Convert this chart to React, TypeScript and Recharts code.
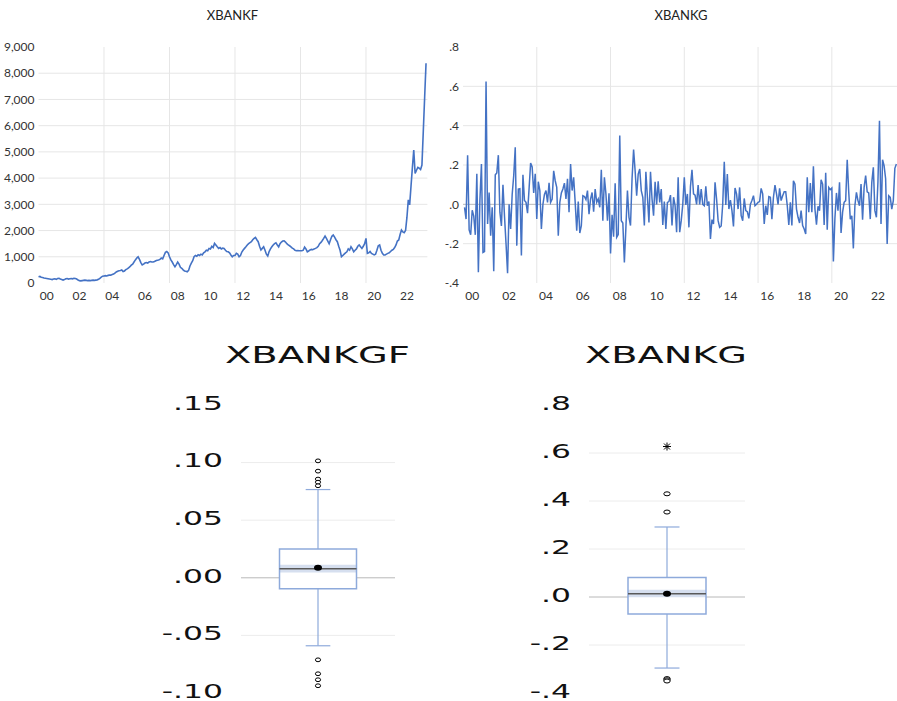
import React from 'react';
import {
  LineChart, Line, XAxis, YAxis, CartesianGrid, ReferenceLine,
  ComposedChart, ReferenceArea, ReferenceDot, Scatter,
} from 'recharts';

// ---------- data ----------
const startYear = 2000;

// XBANKF monthly level, Jan 2000 .. Sep 2023
const xbankf = [
  240, 250, 220, 210, 190, 180, 170, 160, 150, 140, 130, 150,
  160, 140, 170, 180, 150, 130, 110, 130, 160, 170, 150, 160,
  170, 160, 180, 170, 150, 110, 90, 80, 90, 100, 110, 100,
  90, 100, 90, 100, 110, 100, 110, 120, 140, 180, 220, 260,
  270, 280, 270, 290, 300, 300, 320, 340, 380, 420, 450, 470,
  480, 500, 440, 460, 510, 540, 580, 620, 680, 720, 800, 880,
  950, 1000, 900, 780, 690, 720, 760, 780, 760, 800, 820, 800,
  800, 820, 850, 870, 880, 900, 950, 920, 1050, 1170, 1200, 1150,
  1000, 880, 800, 700, 620, 700, 800, 720, 600, 560, 500, 460,
  450, 430, 480, 650, 760, 850, 1000, 1050, 1020, 1080, 1050, 1100,
  1070, 1150, 1190, 1250, 1230, 1320, 1300, 1400, 1350, 1510, 1450, 1380,
  1320, 1350, 1300, 1330, 1320, 1250, 1200, 1190, 1150, 1070, 1000, 1050,
  1050, 1130, 1100, 1000, 1050, 1180, 1260, 1320, 1380, 1450, 1500, 1540,
  1575, 1650, 1700, 1740, 1650, 1575, 1400, 1260, 1320, 1380, 1250, 1100,
  1030, 1200, 1300, 1380, 1450, 1500, 1530, 1450, 1380, 1500, 1560, 1600,
  1610, 1560, 1500, 1450, 1420, 1380, 1330, 1300, 1250, 1230, 1240, 1230,
  1230, 1230, 1250, 1370, 1300, 1190, 1220, 1260, 1280, 1270, 1300, 1320,
  1350, 1400, 1500, 1550, 1620, 1700, 1790, 1700, 1600, 1500, 1650, 1780,
  1830, 1750, 1650, 1575, 1400, 1250, 1000, 1050, 1100, 1150, 1190, 1300,
  1250, 1380, 1300, 1190, 1250, 1300, 1400, 1450, 1380, 1320, 1400, 1500,
  1700, 1130, 1150, 1200, 1130, 1100, 1070, 1100, 1250, 1420, 1450, 1250,
  1130, 1070, 1070, 1100, 1130, 1150, 1200, 1250, 1280, 1350, 1450, 1600,
  1640, 1850, 2020, 1950, 1920, 2000, 2500, 3170, 2980, 3700, 4400, 5070,
  4180, 4300, 4410, 4380, 4330, 4500, 5800, 7100, 8380,
];

// XBANKG monthly growth, Feb 2000 .. Jul 2023
const xbankg = [
  -0.015, -0.075, 0.25, -0.13, -0.155, -0.03, -0.06, -0.155, 0.155, -0.345, 0.02, 0.205,
  -0.245, -0.24, 0.624, -0.1, 0.06, -0.16, -0.015, -0.34, 0.15, 0.16, 0.25, -0.04,
  -0.11, 0.1, -0.06, -0.2, -0.35, 0.0, -0.125, 0.05, 0.145, 0.29, -0.21, 0.078,
  0.08, -0.26, 0.15, 0.02, 0.01, -0.045, 0.08, 0.21, 0.19, 0.058, 0.155, -0.075,
  0.115, 0.07, -0.125, 0.0, 0.05, 0.07, 0.01, 0.11, 0.01, 0.027, 0.17, 0.12,
  0.086, -0.16, 0.01, 0.058, 0.078, 0.108, 0.027, 0.13, -0.04, 0.205, 0.07, 0.137,
  0.01, -0.134, 0.014, -0.146, -0.108, 0.044, 0.04, 0.024, 0.07, -0.05, 0.027, 0.06,
  -0.037, 0.078, 0.01, 0.027, -0.015, 0.176, -0.083, 0.137, 0.053, -0.083, 0.056, -0.25,
  -0.053, -0.165, 0.107, -0.168, -0.154, 0.35, -0.083, -0.095, -0.295, -0.117, 0.07, -0.066,
  -0.108, 0.13, 0.278, 0.171, 0.044, 0.154, 0.18, 0.07, 0.036, -0.108, 0.166, 0.036,
  -0.092, 0.166, 0.027, -0.058, 0.115, 0.0, 0.117, 0.01, 0.078, -0.105, 0.014, -0.125,
  0.01, 0.014, 0.047, -0.108, 0.036, -0.007, -0.142, 0.137, -0.142, -0.083, 0.0, 0.137,
  -0.003, 0.053, -0.117, 0.09, 0.176, 0.053, 0.047, 0.0, 0.098, 0.0, 0.078, 0.0,
  -0.007, 0.092, -0.007, 0.014, -0.176, -0.078, -0.1, 0.112, 0.027, -0.083, -0.117, -0.11,
  0.0, 0.217, -0.003, 0.154, -0.024, 0.022, -0.032, -0.112, 0.083, 0.053, -0.024, 0.086,
  -0.058, -0.083, 0.03, -0.032, -0.037, -0.071, 0.0, 0.02, 0.044, -0.007, 0.0, 0.01,
  0.014, 0.081, 0.053, -0.1, -0.007, -0.054, 0.039, 0.036, -0.075, 0.036, 0.098, 0.053,
  0.0, 0.081, 0.019, 0.044, 0.064, 0.064, -0.007, -0.105, 0.01, -0.108, 0.12, 0.103,
  -0.024, -0.066, -0.095, -0.032, -0.108, -0.125, -0.151, 0.137, -0.04, 0.108, -0.04, 0.193,
  -0.024, -0.103, -0.01, -0.032, 0.125, 0.103, -0.105, 0.16, -0.129, 0.086, 0.075, 0.083,
  -0.29, -0.071, 0.058, -0.032, 0.112, -0.146, -0.04, 0.01, 0.019, 0.227, 0.061, -0.075,
  -0.058, -0.224, -0.007, 0.061, 0.019, -0.007, 0.103, -0.078, 0.086, 0.146, 0.064, 0.058,
  -0.075, 0.112, 0.188, -0.032, -0.066, 0.115, 0.425, -0.1, 0.227, 0.197, 0.13, -0.202,
  0.044, 0.036, -0.024, 0.019, 0.183, 0.205,
];

const yearTicks = [2000.5, 2002.5, 2004.5, 2006.5, 2008.5, 2010.5, 2012.5, 2014.5, 2016.5, 2018.5, 2020.5, 2022.5];
const yearLabels = ['00', '02', '04', '06', '08', '10', '12', '14', '16', '18', '20', '22'];
const gridYears = [2004, 2008, 2012, 2016, 2020];
const levelTicks = [0, 1000, 2000, 3000, 4000, 5000, 6000, 7000, 8000, 9000];
const levelGrid = [1000, 2000, 3000, 4000, 5000, 6000, 7000, 8000];
const growthTicks = [-0.4, -0.2, 0, 0.2, 0.4, 0.6, 0.8];
const growthGrid = [-0.2, 0.2, 0.4, 0.6];

// Box plot XBANKGF: [lower whisker, Q1, median, Q3, upper whisker]
const gfBox = [-0.059, -0.0095, 0.0078, 0.025, 0.0766];
const gfMean = 0.0087;
const gfMedianCI = [0.0046, 0.0113];
const gfOutliers = [0.1015, 0.0926, 0.0857, 0.083, 0.0799, -0.0712, -0.0833, -0.0885, -0.0937];
const gfFar: number[] = [];
const gfTicks = [-0.1, -0.05, 0, 0.05, 0.1, 0.15];
const gfGrid = [-0.05, 0.05, 0.1];

// Box plot XBANKG
const gBox = [-0.296, -0.0708, 0.0138, 0.0817, 0.2917];
const gMean = 0.0138;
const gMedianCI = [-0.001, 0.03];
const gOutliers = [0.43, 0.354, -0.34, -0.345, -0.35];
const gFar = [0.627];
const gTicks = [-0.4, -0.2, 0, 0.2, 0.4, 0.6, 0.8];
const gGrid = [-0.2, 0.2, 0.4, 0.6];

// ---------- derived ----------
const levelData = xbankf.map((v, i) => ({ t: startYear + i / 12, v }));
const growthData = xbankg.map((v, i) => ({ t: startYear + (i + 1) / 12, v }));

const LINE = '#4472c4';
const GRID = '#e6e6e6';
const ZERO = '#b8b8b8';
const SMALL_FONT = 'Lato, "Open Sans", sans-serif';
const BIG_FONT = '"DejaVu Sans", Verdana, sans-serif';

const yearFmt = (v: number) => yearLabels[yearTicks.indexOf(v)] ?? '';
const levelFmt = (v: number) => v.toLocaleString('en-US');
const decFmt = (digits: number) => (v: number) => v.toFixed(digits).replace(/^(-?)0\./, '$1.');

const smallTick = { fontSize: 12, fill: '#333', fontFamily: SMALL_FONT };

const BigTick = (fmt: (v: number) => string) => (props: any) => {
  const { x, y, payload } = props;
  return (
    <g transform={`translate(${x},${y})`}>
      <text transform="scale(1.57,1)" textAnchor="end" dy="0.24em" fontSize={20}
        fontFamily={BIG_FONT} fill="#111">{fmt(payload.value)}</text>
    </g>
  );
};

const Hollow = (rx: number, ry: number) => (props: any) => (
  <ellipse cx={props.cx} cy={props.cy} rx={rx} ry={ry} fill="#fff" stroke="#000" strokeWidth={1} />
);

const Star = (props: any) => {
  const { cx, cy } = props;
  const r = 4;
  return (
    <g stroke="#000" strokeWidth={1}>
      <line x1={cx - r} y1={cy} x2={cx + r} y2={cy} />
      <line x1={cx} y1={cy - r} x2={cx} y2={cy + r} />
      <line x1={cx - r * 0.75} y1={cy - r * 0.75} x2={cx + r * 0.75} y2={cy + r * 0.75} />
      <line x1={cx - r * 0.75} y1={cy + r * 0.75} x2={cx + r * 0.75} y2={cy - r * 0.75} />
    </g>
  );
};

const MeanDot = (props: any) => (
  <ellipse cx={props.cx} cy={props.cy} rx={4} ry={3} fill="#000" />
);

type BoxProps = {
  box: number[]; mean: number; ci: number[]; outliers: number[]; far: number[];
  ticks: number[]; grid: number[]; digits: number; yAxisWidth: number; rx: number; ry: number;
};

const BOX_STROKE = '#8eaadb';

function BoxPanel(p: BoxProps) {
  const [lo, q1, med, q3, hi] = p.box;
  const domain = [p.ticks[0], p.ticks[p.ticks.length - 1]];
  const outData = p.outliers.map((v) => ({ x: 0.5, y: v }));
  const farData = p.far.map((v) => ({ x: 0.5, y: v }));
  return (
    <ComposedChart width={260} height={321} margin={{ top: 25, right: 15, bottom: 8, left: 0 }}>
      <CartesianGrid horizontalValues={p.grid} vertical={false} stroke="#ececec" strokeWidth={1} />
      <CartesianGrid horizontalValues={[0]} vertical={false} stroke={ZERO} strokeWidth={1} />
      <XAxis type="number" dataKey="x" domain={[0, 1]} hide />
      <YAxis type="number" dataKey="y" domain={domain} ticks={p.ticks} width={p.yAxisWidth}
        axisLine={false} tickLine={false} tickSize={0} tickMargin={18}
        tick={BigTick(decFmt(p.digits))} interval={0} />
      <ReferenceArea x1={0.25} x2={0.75} y1={q1} y2={q3} fill="#fff" fillOpacity={1} stroke="none" />
      <ReferenceArea x1={0.25} x2={0.75} y1={p.ci[0]} y2={p.ci[1]} fill="#d6dfef" fillOpacity={1} stroke="none" />
      <ReferenceArea x1={0.25} x2={0.75} y1={q1} y2={q3} fill="none" fillOpacity={0} stroke={BOX_STROKE} strokeWidth={1.5} />
      <ReferenceLine segment={[{ x: 0.5, y: q3 }, { x: 0.5, y: hi }]} stroke={BOX_STROKE} strokeWidth={1.2} />
      <ReferenceLine segment={[{ x: 0.5, y: q1 }, { x: 0.5, y: lo }]} stroke={BOX_STROKE} strokeWidth={1.2} />
      <ReferenceLine segment={[{ x: 0.42, y: hi }, { x: 0.58, y: hi }]} stroke={BOX_STROKE} strokeWidth={1.2} />
      <ReferenceLine segment={[{ x: 0.42, y: lo }, { x: 0.58, y: lo }]} stroke={BOX_STROKE} strokeWidth={1.2} />
      <ReferenceLine segment={[{ x: 0.25, y: med }, { x: 0.75, y: med }]} stroke="#595959" strokeWidth={1.5} />
      <ReferenceDot x={0.5} y={p.mean} shape={MeanDot} />
      <Scatter data={outData} dataKey="y" shape={Hollow(p.rx, p.ry)} isAnimationActive={false} />
      {farData.length > 0 && (
        <Scatter data={farData} dataKey="y" shape={Star} isAnimationActive={false} />
      )}
    </ComposedChart>
  );
}

export default function App() {
  return (
    <div style={{ position: 'absolute', left: 0, top: 0, width: 897, height: 701, overflow: 'hidden', background: '#fff' }}>
      {/* XBANKF line */}
      <div style={{ position: 'absolute', left: 0, top: 0 }}>
        <LineChart width={440} height={310} data={levelData} margin={{ top: 47, right: 12.6, bottom: 0, left: 0 }}>
          <CartesianGrid horizontalValues={levelGrid} verticalValues={gridYears} stroke={GRID} strokeWidth={1} />
          <XAxis type="number" dataKey="t" domain={[2000, 2023.75]} ticks={yearTicks} tickFormatter={yearFmt}
            axisLine={false} tickLine={false} tickSize={0} tickMargin={8} height={27} tick={smallTick} interval={0} />
          <YAxis type="number" domain={[0, 9000]} ticks={levelTicks} tickFormatter={levelFmt} width={38.5}
            axisLine={false} tickLine={false} tickSize={0} tickMargin={4} tick={smallTick} interval={0} />
          <Line type="linear" dataKey="v" stroke={LINE} strokeWidth={1.6} dot={false} isAnimationActive={false} />
        </LineChart>
      </div>

      {/* XBANKG line */}
      <div style={{ position: 'absolute', left: 440, top: 0, width: 457, height: 310, overflow: 'hidden' }}>
        <LineChart width={461} height={310} data={growthData} margin={{ top: 47, right: 0, bottom: 0, left: 0 }}>
          <CartesianGrid horizontalValues={growthGrid} verticalValues={gridYears} stroke={GRID} strokeWidth={1} />
          <CartesianGrid horizontalValues={[0]} vertical={false} stroke={ZERO} strokeWidth={1} />
          <XAxis type="number" dataKey="t" domain={[2000, 2023.75]} ticks={yearTicks} tickFormatter={yearFmt}
            axisLine={false} tickLine={false} tickSize={0} tickMargin={8} height={27} tick={smallTick} interval={0} />
          <YAxis type="number" domain={[-0.4, 0.8]} ticks={growthTicks} tickFormatter={decFmt(1)} width={23}
            axisLine={false} tickLine={false} tickSize={0} tickMargin={4} tick={smallTick} interval={0} />
          <Line type="linear" dataKey="v" stroke={LINE} strokeWidth={1.5} dot={false} isAnimationActive={false} />
        </LineChart>
      </div>

      {/* Box plots */}
      <div style={{ position: 'absolute', left: 150, top: 380 }}>
        <BoxPanel box={gfBox} mean={gfMean} ci={gfMedianCI} outliers={gfOutliers} far={gfFar}
          ticks={gfTicks} grid={gfGrid} digits={2} yAxisWidth={91} rx={2.6} ry={1.9} />
      </div>
      <div style={{ position: 'absolute', left: 500, top: 380 }}>
        <BoxPanel box={gBox} mean={gMean} ci={gMedianCI} outliers={gOutliers} far={gFar}
          ticks={gTicks} grid={gGrid} digits={1} yAxisWidth={89} rx={3.2} ry={2} />
      </div>

      {/* Titles */}
      <svg width={897} height={701} style={{ position: 'absolute', left: 0, top: 0, pointerEvents: 'none' }}>
        <text x={232.5} y={20} textAnchor="middle" fontSize={13} fontFamily={SMALL_FONT} fill="#222">XBANKF</text>
        <text x={681} y={20} textAnchor="middle" fontSize={13} fontFamily={SMALL_FONT} fill="#222">XBANKG</text>
        <text x={317.5} y={363} textAnchor="middle" fontSize={23} fontFamily={BIG_FONT} fill="#111"
          textLength={185} lengthAdjust="spacingAndGlyphs">XBANKGF</text>
        <text x={666} y={363} textAnchor="middle" fontSize={23} fontFamily={BIG_FONT} fill="#111"
          textLength={162} lengthAdjust="spacingAndGlyphs">XBANKG</text>
      </svg>
    </div>
  );
}
